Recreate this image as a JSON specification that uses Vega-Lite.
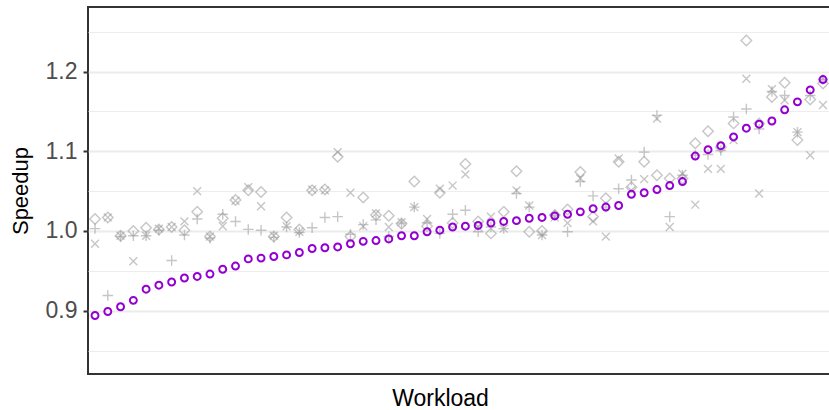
{
"$schema": "https://vega.github.io/schema/vega-lite/v6.json",
"width": 742, "height": 367,
"autosize": {"type": "none"},
"padding": {"left": 88, "top": 7, "right": 0, "bottom": 36},
"background": "white",
"config": {"view": {"stroke": "#333333", "strokeWidth": 2}, "font": "Liberation Sans"},
"datasets": {
"gray": [
{"workload":1,"config":"D","speedup":1.015},{"workload":1,"config":"X","speedup":0.984},{"workload":1,"config":"P","speedup":1.003},
{"workload":2,"config":"D","speedup":1.017},{"workload":2,"config":"X","speedup":1.017},{"workload":2,"config":"P","speedup":0.919},
{"workload":3,"config":"D","speedup":0.994},{"workload":3,"config":"X","speedup":0.994},{"workload":3,"config":"P","speedup":0.993},
{"workload":4,"config":"D","speedup":1.000},{"workload":4,"config":"X","speedup":0.962},{"workload":4,"config":"P","speedup":0.994},
{"workload":5,"config":"D","speedup":1.004},{"workload":5,"config":"X","speedup":0.994},{"workload":5,"config":"P","speedup":0.994},
{"workload":6,"config":"D","speedup":1.002},{"workload":6,"config":"X","speedup":1.003},{"workload":6,"config":"P","speedup":1.001},
{"workload":7,"config":"D","speedup":1.005},{"workload":7,"config":"X","speedup":1.005},{"workload":7,"config":"P","speedup":0.963},
{"workload":8,"config":"D","speedup":1.001},{"workload":8,"config":"X","speedup":1.012},{"workload":8,"config":"P","speedup":0.995},
{"workload":9,"config":"D","speedup":1.024},{"workload":9,"config":"X","speedup":1.050},{"workload":9,"config":"P","speedup":1.015},
{"workload":10,"config":"D","speedup":0.993},{"workload":10,"config":"X","speedup":0.993},{"workload":10,"config":"P","speedup":0.991},
{"workload":11,"config":"D","speedup":1.016},{"workload":11,"config":"X","speedup":1.006},{"workload":11,"config":"P","speedup":1.021},
{"workload":12,"config":"D","speedup":1.039},{"workload":12,"config":"X","speedup":1.038},{"workload":12,"config":"P","speedup":1.012},
{"workload":13,"config":"D","speedup":1.051},{"workload":13,"config":"X","speedup":1.055},{"workload":13,"config":"P","speedup":1.002},
{"workload":14,"config":"D","speedup":1.049},{"workload":14,"config":"X","speedup":1.031},{"workload":14,"config":"P","speedup":1.001},
{"workload":15,"config":"D","speedup":0.993},{"workload":15,"config":"X","speedup":0.994},{"workload":15,"config":"P","speedup":0.992},
{"workload":16,"config":"D","speedup":1.017},{"workload":16,"config":"X","speedup":1.006},{"workload":16,"config":"P","speedup":1.005},
{"workload":17,"config":"D","speedup":1.002},{"workload":17,"config":"X","speedup":0.999},{"workload":17,"config":"P","speedup":0.998},
{"workload":18,"config":"D","speedup":1.051},{"workload":18,"config":"X","speedup":1.052},{"workload":18,"config":"P","speedup":1.004},
{"workload":19,"config":"D","speedup":1.052},{"workload":19,"config":"X","speedup":1.051},{"workload":19,"config":"P","speedup":1.017},
{"workload":20,"config":"D","speedup":1.093},{"workload":20,"config":"X","speedup":1.099},{"workload":20,"config":"P","speedup":1.018},
{"workload":21,"config":"D","speedup":0.993},{"workload":21,"config":"X","speedup":1.048},{"workload":21,"config":"P","speedup":0.996},
{"workload":22,"config":"D","speedup":1.042},{"workload":22,"config":"X","speedup":1.006},{"workload":22,"config":"P","speedup":1.008},
{"workload":23,"config":"D","speedup":1.020},{"workload":23,"config":"X","speedup":1.022},{"workload":23,"config":"P","speedup":1.014},
{"workload":24,"config":"D","speedup":1.019},{"workload":24,"config":"X","speedup":1.005},{"workload":24,"config":"P","speedup":0.993},
{"workload":25,"config":"D","speedup":1.009},{"workload":25,"config":"X","speedup":1.011},{"workload":25,"config":"P","speedup":1.010},
{"workload":26,"config":"D","speedup":1.062},{"workload":26,"config":"X","speedup":1.030},{"workload":26,"config":"P","speedup":1.030},
{"workload":27,"config":"D","speedup":1.006},{"workload":27,"config":"X","speedup":1.015},{"workload":27,"config":"P","speedup":1.010},
{"workload":28,"config":"D","speedup":1.048},{"workload":28,"config":"X","speedup":1.053},{"workload":28,"config":"P","speedup":0.997},
{"workload":29,"config":"D","speedup":1.010},{"workload":29,"config":"X","speedup":1.057},{"workload":29,"config":"P","speedup":1.021},
{"workload":30,"config":"D","speedup":1.084},{"workload":30,"config":"X","speedup":1.071},{"workload":30,"config":"P","speedup":1.026},
{"workload":31,"config":"D","speedup":1.012},{"workload":31,"config":"X","speedup":1.005},{"workload":31,"config":"P","speedup":0.999},
{"workload":32,"config":"D","speedup":0.997},{"workload":32,"config":"X","speedup":1.018},{"workload":32,"config":"P","speedup":1.005},
{"workload":33,"config":"D","speedup":1.024},{"workload":33,"config":"X","speedup":1.003},{"workload":33,"config":"P","speedup":1.003},
{"workload":34,"config":"D","speedup":1.075},{"workload":34,"config":"X","speedup":1.051},{"workload":34,"config":"P","speedup":1.047},
{"workload":35,"config":"D","speedup":0.999},{"workload":35,"config":"X","speedup":1.032},{"workload":35,"config":"P","speedup":1.030},
{"workload":36,"config":"D","speedup":1.000},{"workload":36,"config":"X","speedup":0.995},{"workload":36,"config":"P","speedup":0.995},
{"workload":37,"config":"D","speedup":1.020},{"workload":37,"config":"X","speedup":1.017},{"workload":37,"config":"P","speedup":1.020},
{"workload":38,"config":"D","speedup":1.027},{"workload":38,"config":"X","speedup":1.010},{"workload":38,"config":"P","speedup":0.999},
{"workload":39,"config":"D","speedup":1.074},{"workload":39,"config":"X","speedup":1.066},{"workload":39,"config":"P","speedup":1.062},
{"workload":40,"config":"D","speedup":1.018},{"workload":40,"config":"X","speedup":1.012},{"workload":40,"config":"P","speedup":1.044},
{"workload":41,"config":"D","speedup":1.041},{"workload":41,"config":"X","speedup":0.993},{"workload":41,"config":"P","speedup":1.030},
{"workload":42,"config":"D","speedup":1.087},{"workload":42,"config":"X","speedup":1.091},{"workload":42,"config":"P","speedup":1.053},
{"workload":43,"config":"D","speedup":1.055},{"workload":43,"config":"X","speedup":1.051},{"workload":43,"config":"P","speedup":1.064},
{"workload":44,"config":"D","speedup":1.087},{"workload":44,"config":"X","speedup":1.065},{"workload":44,"config":"P","speedup":1.099},
{"workload":45,"config":"D","speedup":1.070},{"workload":45,"config":"X","speedup":1.141},{"workload":45,"config":"P","speedup":1.145},
{"workload":46,"config":"D","speedup":1.066},{"workload":46,"config":"X","speedup":1.005},{"workload":46,"config":"P","speedup":1.018},
{"workload":47,"config":"D","speedup":1.066},{"workload":47,"config":"X","speedup":1.072},{"workload":47,"config":"P","speedup":1.070},
{"workload":48,"config":"D","speedup":1.110},{"workload":48,"config":"X","speedup":1.033},{"workload":48,"config":"P","speedup":1.095},
{"workload":49,"config":"D","speedup":1.125},{"workload":49,"config":"X","speedup":1.078},{"workload":49,"config":"P","speedup":1.096},
{"workload":50,"config":"D","speedup":1.105},{"workload":50,"config":"X","speedup":1.078},{"workload":50,"config":"P","speedup":1.101},
{"workload":51,"config":"D","speedup":1.135},{"workload":51,"config":"X","speedup":1.114},{"workload":51,"config":"P","speedup":1.143},
{"workload":52,"config":"D","speedup":1.239},{"workload":52,"config":"X","speedup":1.191},{"workload":52,"config":"P","speedup":1.153},
{"workload":53,"config":"D","speedup":1.135},{"workload":53,"config":"X","speedup":1.047},{"workload":53,"config":"P","speedup":1.128},
{"workload":54,"config":"D","speedup":1.168},{"workload":54,"config":"X","speedup":1.178},{"workload":54,"config":"P","speedup":1.175},
{"workload":55,"config":"D","speedup":1.186},{"workload":55,"config":"X","speedup":1.164},{"workload":55,"config":"P","speedup":1.170},
{"workload":56,"config":"D","speedup":1.114},{"workload":56,"config":"X","speedup":1.124},{"workload":56,"config":"P","speedup":1.124},
{"workload":57,"config":"D","speedup":1.165},{"workload":57,"config":"X","speedup":1.095},{"workload":57,"config":"P","speedup":1.170},
{"workload":58,"config":"D","speedup":1.185},{"workload":58,"config":"X","speedup":1.158},{"workload":58,"config":"P","speedup":1.190}
],
"ours": [
{"workload":1,"speedup":0.894},{"workload":2,"speedup":0.899},{"workload":3,"speedup":0.905},{"workload":4,"speedup":0.913},
{"workload":5,"speedup":0.927},{"workload":6,"speedup":0.932},{"workload":7,"speedup":0.936},{"workload":8,"speedup":0.941},
{"workload":9,"speedup":0.943},{"workload":10,"speedup":0.946},{"workload":11,"speedup":0.952},{"workload":12,"speedup":0.956},
{"workload":13,"speedup":0.965},{"workload":14,"speedup":0.966},{"workload":15,"speedup":0.968},{"workload":16,"speedup":0.970},
{"workload":17,"speedup":0.973},{"workload":18,"speedup":0.978},{"workload":19,"speedup":0.979},{"workload":20,"speedup":0.980},
{"workload":21,"speedup":0.984},{"workload":22,"speedup":0.987},{"workload":23,"speedup":0.988},{"workload":24,"speedup":0.990},
{"workload":25,"speedup":0.994},{"workload":26,"speedup":0.994},{"workload":27,"speedup":0.999},{"workload":28,"speedup":1.001},
{"workload":29,"speedup":1.005},{"workload":30,"speedup":1.006},{"workload":31,"speedup":1.007},{"workload":32,"speedup":1.010},
{"workload":33,"speedup":1.012},{"workload":34,"speedup":1.013},{"workload":35,"speedup":1.016},{"workload":36,"speedup":1.017},
{"workload":37,"speedup":1.019},{"workload":38,"speedup":1.021},{"workload":39,"speedup":1.024},{"workload":40,"speedup":1.028},
{"workload":41,"speedup":1.030},{"workload":42,"speedup":1.032},{"workload":43,"speedup":1.046},{"workload":44,"speedup":1.048},
{"workload":45,"speedup":1.052},{"workload":46,"speedup":1.057},{"workload":47,"speedup":1.062},{"workload":48,"speedup":1.094},
{"workload":49,"speedup":1.102},{"workload":50,"speedup":1.107},{"workload":51,"speedup":1.118},{"workload":52,"speedup":1.129},
{"workload":53,"speedup":1.134},{"workload":54,"speedup":1.138},{"workload":55,"speedup":1.152},{"workload":56,"speedup":1.162},
{"workload":57,"speedup":1.177},{"workload":58,"speedup":1.190}
]
},
"layer": [
{
"data": {"name": "gray"},
"mark": {"type": "point", "filled": false, "strokeWidth": 1.4, "opacity": 0.55, "color": "#999999"},
"encoding": {
"x": {"field": "workload", "type": "quantitative", "scale": {"domain": [0.45, 58.55], "nice": false, "zero": false},
"axis": {"title": "Workload", "labels": false, "ticks": false, "domain": false, "grid": false, "titleFontSize": 23, "titleColor": "#000000", "titleFontWeight": "normal", "titlePadding": 13, "titleX": 352}},
"y": {"field": "speedup", "type": "quantitative", "scale": {"domain": [0.8206, 1.281], "nice": false, "zero": false},
"axis": {"title": "Speedup", "values": [0.85, 0.9, 0.95, 1, 1.05, 1.1, 1.15, 1.2, 1.25],
"labelExpr": "round(datum.value*100) % 10 == 0 ? format(datum.value, '.1f') : ''",
"domain": false, "tickColor": "#333333", "tickWidth": 2, "tickSize": 5,
"tickOpacity": {"condition": {"test": "round(datum.value*100) % 10 == 0", "value": 1}, "value": 0},
"gridColor": "#EBEBEB",
"gridWidth": {"condition": {"test": "round(datum.value*100) % 10 == 0", "value": 1.8}, "value": 0.9},
"labelFontSize": 23, "labelColor": "#4D4D4D", "labelPadding": 6,
"titleFontSize": 22, "titleColor": "#000000", "titleFontWeight": "normal", "titlePadding": 13}},
"shape": {"field": "config", "type": "nominal", "scale": {"domain": ["D", "X", "P"], "range": ["M0,-1L1,0L0,1L-1,0Z", "M-0.75,-0.75L0.75,0.75M-0.75,0.75L0.75,-0.75", "M-1,0L1,0M0,-1L0,1"]}, "legend": null},
"size": {"value": 110}
}
},
{
"mark": {"type": "rule", "color": "#9400D3", "strokeWidth": 2.4},
"encoding": {"y": {"datum": 1}}
},
{
"data": {"name": "ours"},
"mark": {"type": "point", "shape": "circle", "filled": false, "color": "#9400D3", "strokeWidth": 2, "size": 48, "opacity": 1},
"encoding": {
"x": {"field": "workload", "type": "quantitative"},
"y": {"field": "speedup", "type": "quantitative"}
}
}
]
}
